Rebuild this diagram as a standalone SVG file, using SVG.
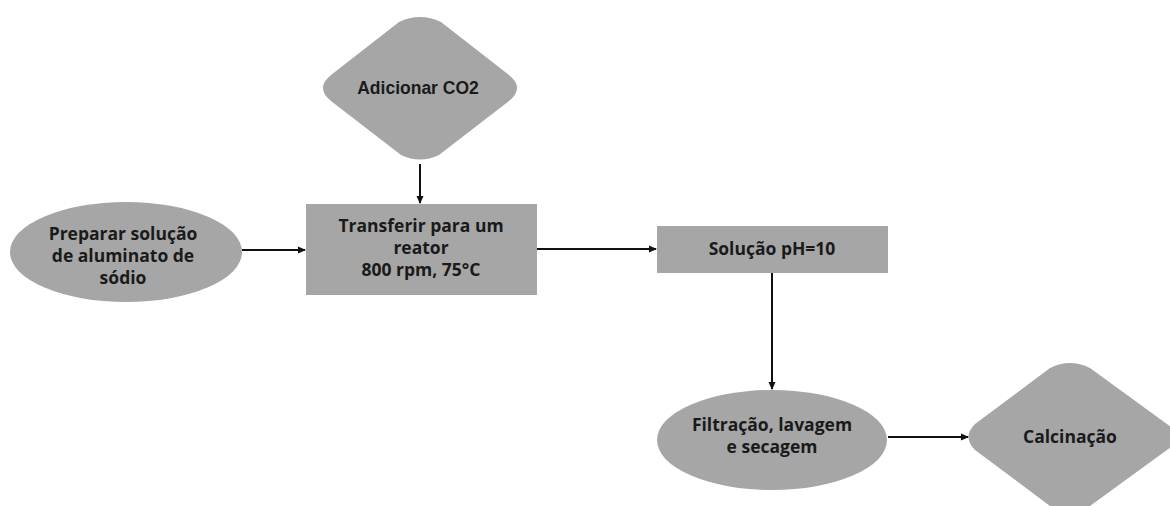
<svg xmlns="http://www.w3.org/2000/svg" width="1170" height="506" viewBox="0 0 1170 506">
<defs>
<marker id="ah" markerWidth="8" markerHeight="8" refX="7" refY="4" orient="auto" markerUnits="userSpaceOnUse">
<path d="M0,0.5 L8,4 L0,7.5 Z" fill="#111"/>
</marker>
<style>
.s{fill:#a6a6a6;stroke:none}
.t{font-family:"Open Sans","Liberation Sans",sans-serif;font-weight:700;font-size:17.5px;fill:#1a1a1a;text-anchor:middle}
.a{font-family:"Liberation Sans",Arial,sans-serif;font-weight:700;font-size:17.5px;fill:#1a1a1a;text-anchor:middle}
.c{stroke:#111;stroke-width:2;fill:none;marker-end:url(#ah)}
</style>
</defs>
<rect width="1170" height="506" fill="#fff"/>
<g id="n-co2">
<path class="s" d="M399,22 Q420,12 441,22 L509,75 Q525,88 509,101 L439,155 Q420,164 401,155 L331,101 Q315,88 331,75 Z"/>
<text class="a" x="418" y="94">Adicionar CO2</text>
</g>
<g id="n-preparar">
<ellipse class="s" cx="126" cy="252" rx="116" ry="50"/>
<text class="t" x="123" y="240">Preparar solução</text>
<text class="t" x="123" y="262">de aluminato de</text>
<text class="t" x="123" y="284">sódio</text>
</g>
<g id="n-transferir">
<rect class="s" x="306" y="204" width="231" height="91"/>
<text class="t" x="421" y="232">Transferir para um</text>
<text class="t" x="421" y="254">reator</text>
<text class="t" x="421" y="276">800 rpm, 75°C</text>
</g>
<g id="n-solucao">
<rect class="s" x="657" y="226" width="231" height="47"/>
<text class="t" x="772" y="255">Solução pH=10</text>
</g>
<g id="n-filtracao">
<ellipse class="s" cx="772" cy="440" rx="115" ry="50"/>
<text class="t" x="772" y="431">Filtração, lavagem</text>
<text class="t" x="772" y="453">e secagem</text>
</g>
<g id="n-calcinacao">
<path class="s" d="M1050,368 Q1070,358 1090,368 L1175,430 Q1185,437 1175,444 L1090,506 L1050,506 L975,450 Q962,437 975,424 Z"/>
<text class="t" x="1070" y="443">Calcinação</text>
</g>
<g id="connectors">
<line class="c" x1="420" y1="164" x2="420" y2="203"/>
<line class="c" x1="242" y1="250" x2="305" y2="250"/>
<line class="c" x1="537" y1="249" x2="656" y2="249"/>
<line class="c" x1="772" y1="273" x2="772" y2="389"/>
<line class="c" x1="888" y1="437" x2="968" y2="437"/>
</g>
</svg>
